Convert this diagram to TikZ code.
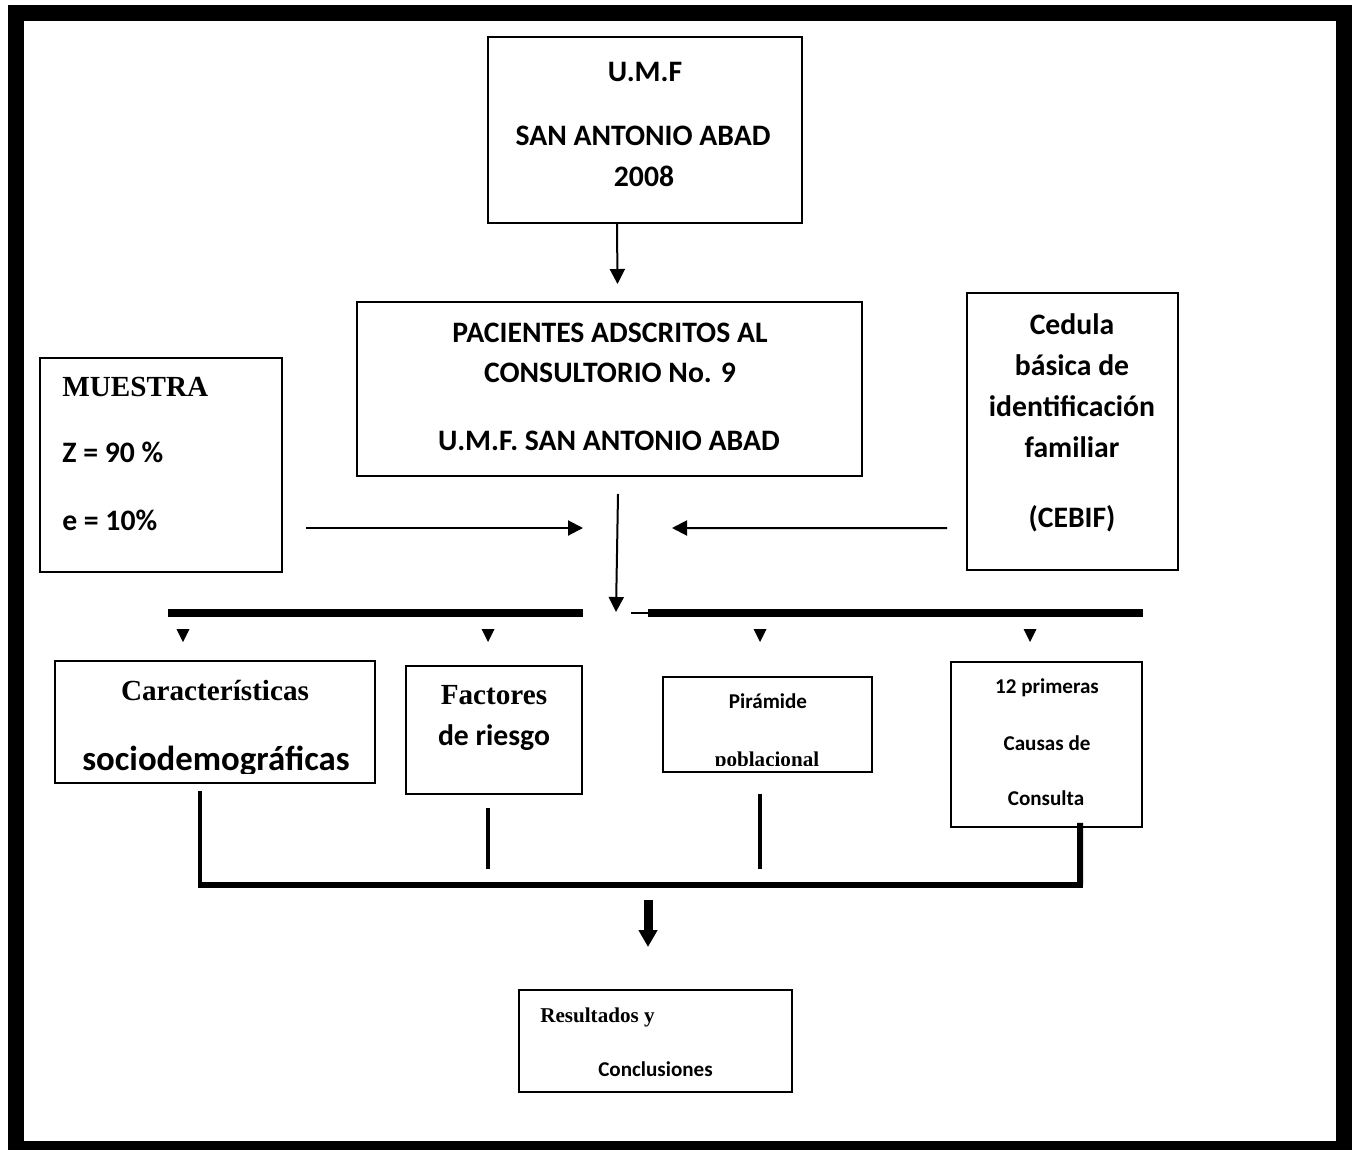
\documentclass[tikz,border=0pt]{standalone}
\usepackage{fontspec}
\setmainfont{Carlito}
\newfontfamily\timesfont{Liberation Serif}
\usepackage{tikz}
\usetikzlibrary{arrows.meta}
\tikzset{
  box/.style={rectangle,draw,line width=0.04cm,inner sep=0pt},
  cal/.style={inner sep=0pt,anchor=base,font=\bfseries\fontsize{16.9}{19}\selectfont},
  calbig/.style={inner sep=0pt,anchor=base,font=\bfseries\fontsize{19.8}{23}\selectfont},
  calsmall/.style={inner sep=0pt,anchor=base,font=\bfseries\fontsize{12}{14}\selectfont},
  tms/.style={inner sep=0pt,anchor=base,font=\timesfont\bfseries\fontsize{16.6}{19}\selectfont},
  tmssmall/.style={inner sep=0pt,anchor=base,font=\timesfont\bfseries\fontsize{12}{14}\selectfont},
  arr/.style={-{Triangle[length=0.3cm,width=0.3cm]},line width=0.04cm},
  bigarr/.style={-{Triangle[length=0.34cm,width=0.36cm]},line width=0.18cm},
  bar/.style={line width=0.16cm},
  thinbar/.style={line width=0.03cm},
  link/.style={line width=0.08cm},
  bus/.style={line width=0.12cm},
  frame/.style={line width=0.32cm}
}
\begin{document}
\begin{tikzpicture}[x=0.02cm,y=-0.02cm]
\useasboundingbox (0,0) rectangle (1358,1149);
\draw[frame] (16,13) rectangle (1344,1149);
\node[box,minimum width=6.28cm,minimum height=3.72cm] (umf) at (645,130) {};
\node[box,minimum width=10.1cm,minimum height=3.48cm] (pac) at (609.5,389) {};
\node[box,minimum width=4.22cm,minimum height=5.54cm] (ced) at (1072.5,431.5) {};
\node[box,minimum width=4.84cm,minimum height=4.3cm] (mue) at (161,465) {};
\node[box,minimum width=6.4cm,minimum height=2.44cm] (car) at (215,722) {};
\node[box,minimum width=3.52cm,minimum height=2.56cm] (fac) at (494,730) {};
\node[box,minimum width=4.18cm,minimum height=1.9cm] (pir) at (767.5,724.5) {};
\node[box,minimum width=3.82cm,minimum height=3.3cm] (doce) at (1046.5,744.5) {};
\node[box,minimum width=5.46cm,minimum height=2.04cm] (res) at (655.5,1041) {};
\node[cal] (umfA) at (645,82) {U.M.F};
\node[cal] (umfB) at (643,145) {SAN ANTONIO ABAD};
\node[cal] (umfC) at (644,186) {2008};
\node[cal] (pacA) at (610,342) {PACIENTES ADSCRITOS AL};
\node[cal] (pacB) at (610,382) {CONSULTORIO No. 9};
\node[cal] (pacC) at (609,450) {U.M.F. SAN ANTONIO ABAD};
\node[cal] (cedA) at (1072,334) {Cedula};
\node[cal] (cedB) at (1072,375) {básica de};
\node[cal] (cedC) at (1072,416) {identificación};
\node[cal] (cedD) at (1072,457) {familiar};
\node[cal] (cedE) at (1072,527) {(CEBIF)};
\node[tms,anchor=base west] (mueA) at (62,396) {MUESTRA};
\node[cal,anchor=base west] (mueB) at (62,462) {Z = 90 \%};
\node[cal,anchor=base west] (mueC) at (62,530) {e = 10\%};
\node[tms] (carA) at (215,700) {Características};
\begin{scope}
\clip (55,661) rectangle (375,773);
\node[calbig] (carB) at (216,770) {sociodemográficas};
\end{scope}
\node[tms] (facA) at (494,704) {Factores};
\node[cal] (facB) at (494,745) {de riesgo};
\node[calsmall] (pirA) at (768,708) {Pirámide};
\begin{scope}
\clip (663,678) rectangle (872,765);
\node[tmssmall] (pirB) at (767,766) {poblacional};
\end{scope}
\node[calsmall] (doceA) at (1047,693) {12 primeras};
\node[calsmall] (doceB) at (1047,750) {Causas de};
\node[calsmall] (doceC) at (1046,805) {Consulta};
\node[tmssmall,anchor=base west] (resA) at (540,1022) {Resultados y};
\node[calsmall] (resB) at (655.5,1076) {Conclusiones};
\coordinate (hub) at (616,612);
\coordinate (inL) at (583,528);
\coordinate (inR) at (672,528);
\coordinate (busL) at (200,885);
\coordinate (busR) at (1080,885);
\draw[arr] ([shift={(-28,0)}]umf.south) -- ([shift={(8,-17)}]pac.north);
\draw[arr] ([shift={(8.5,17)}]pac.south) -- (hub);
\draw[arr] ([shift={(23,63)}]mue.east) -- (inL);
\draw[arr] ([shift={(-19,96.5)}]ced.west) -- (inR);
\draw[bar] (168,613) -- (583,613);
\draw[thinbar] (631,613) -- (648,613);
\draw[bar] (648,613) -- (1143,613);
\foreach \x in {183,488,760,1030}
  \fill (\x-6.5,629) -- (\x+6.5,629) -- (\x,642) -- cycle;
\draw[link,line width=0.07cm] ([shift={(-15,7)}]car.south) -- (busL);
\draw[link] ([shift={(-6,13)}]fac.south) -- ([shift={(-6,74)}]fac.south);
\draw[link] ([shift={(-7.5,21)}]pir.south) -- ([shift={(-7.5,96)}]pir.south);
\draw[bus] ([shift={(33.5,-5)}]doce.south) -- (busR);
\draw[bus] ([xshift=-0.035cm]busL) -- ([xshift=0.06cm]busR);
\draw[bigarr] ([shift={(-7.5,-89)}]res.north) -- ([shift={(-7.5,-42)}]res.north);
\end{tikzpicture}
\end{document}
